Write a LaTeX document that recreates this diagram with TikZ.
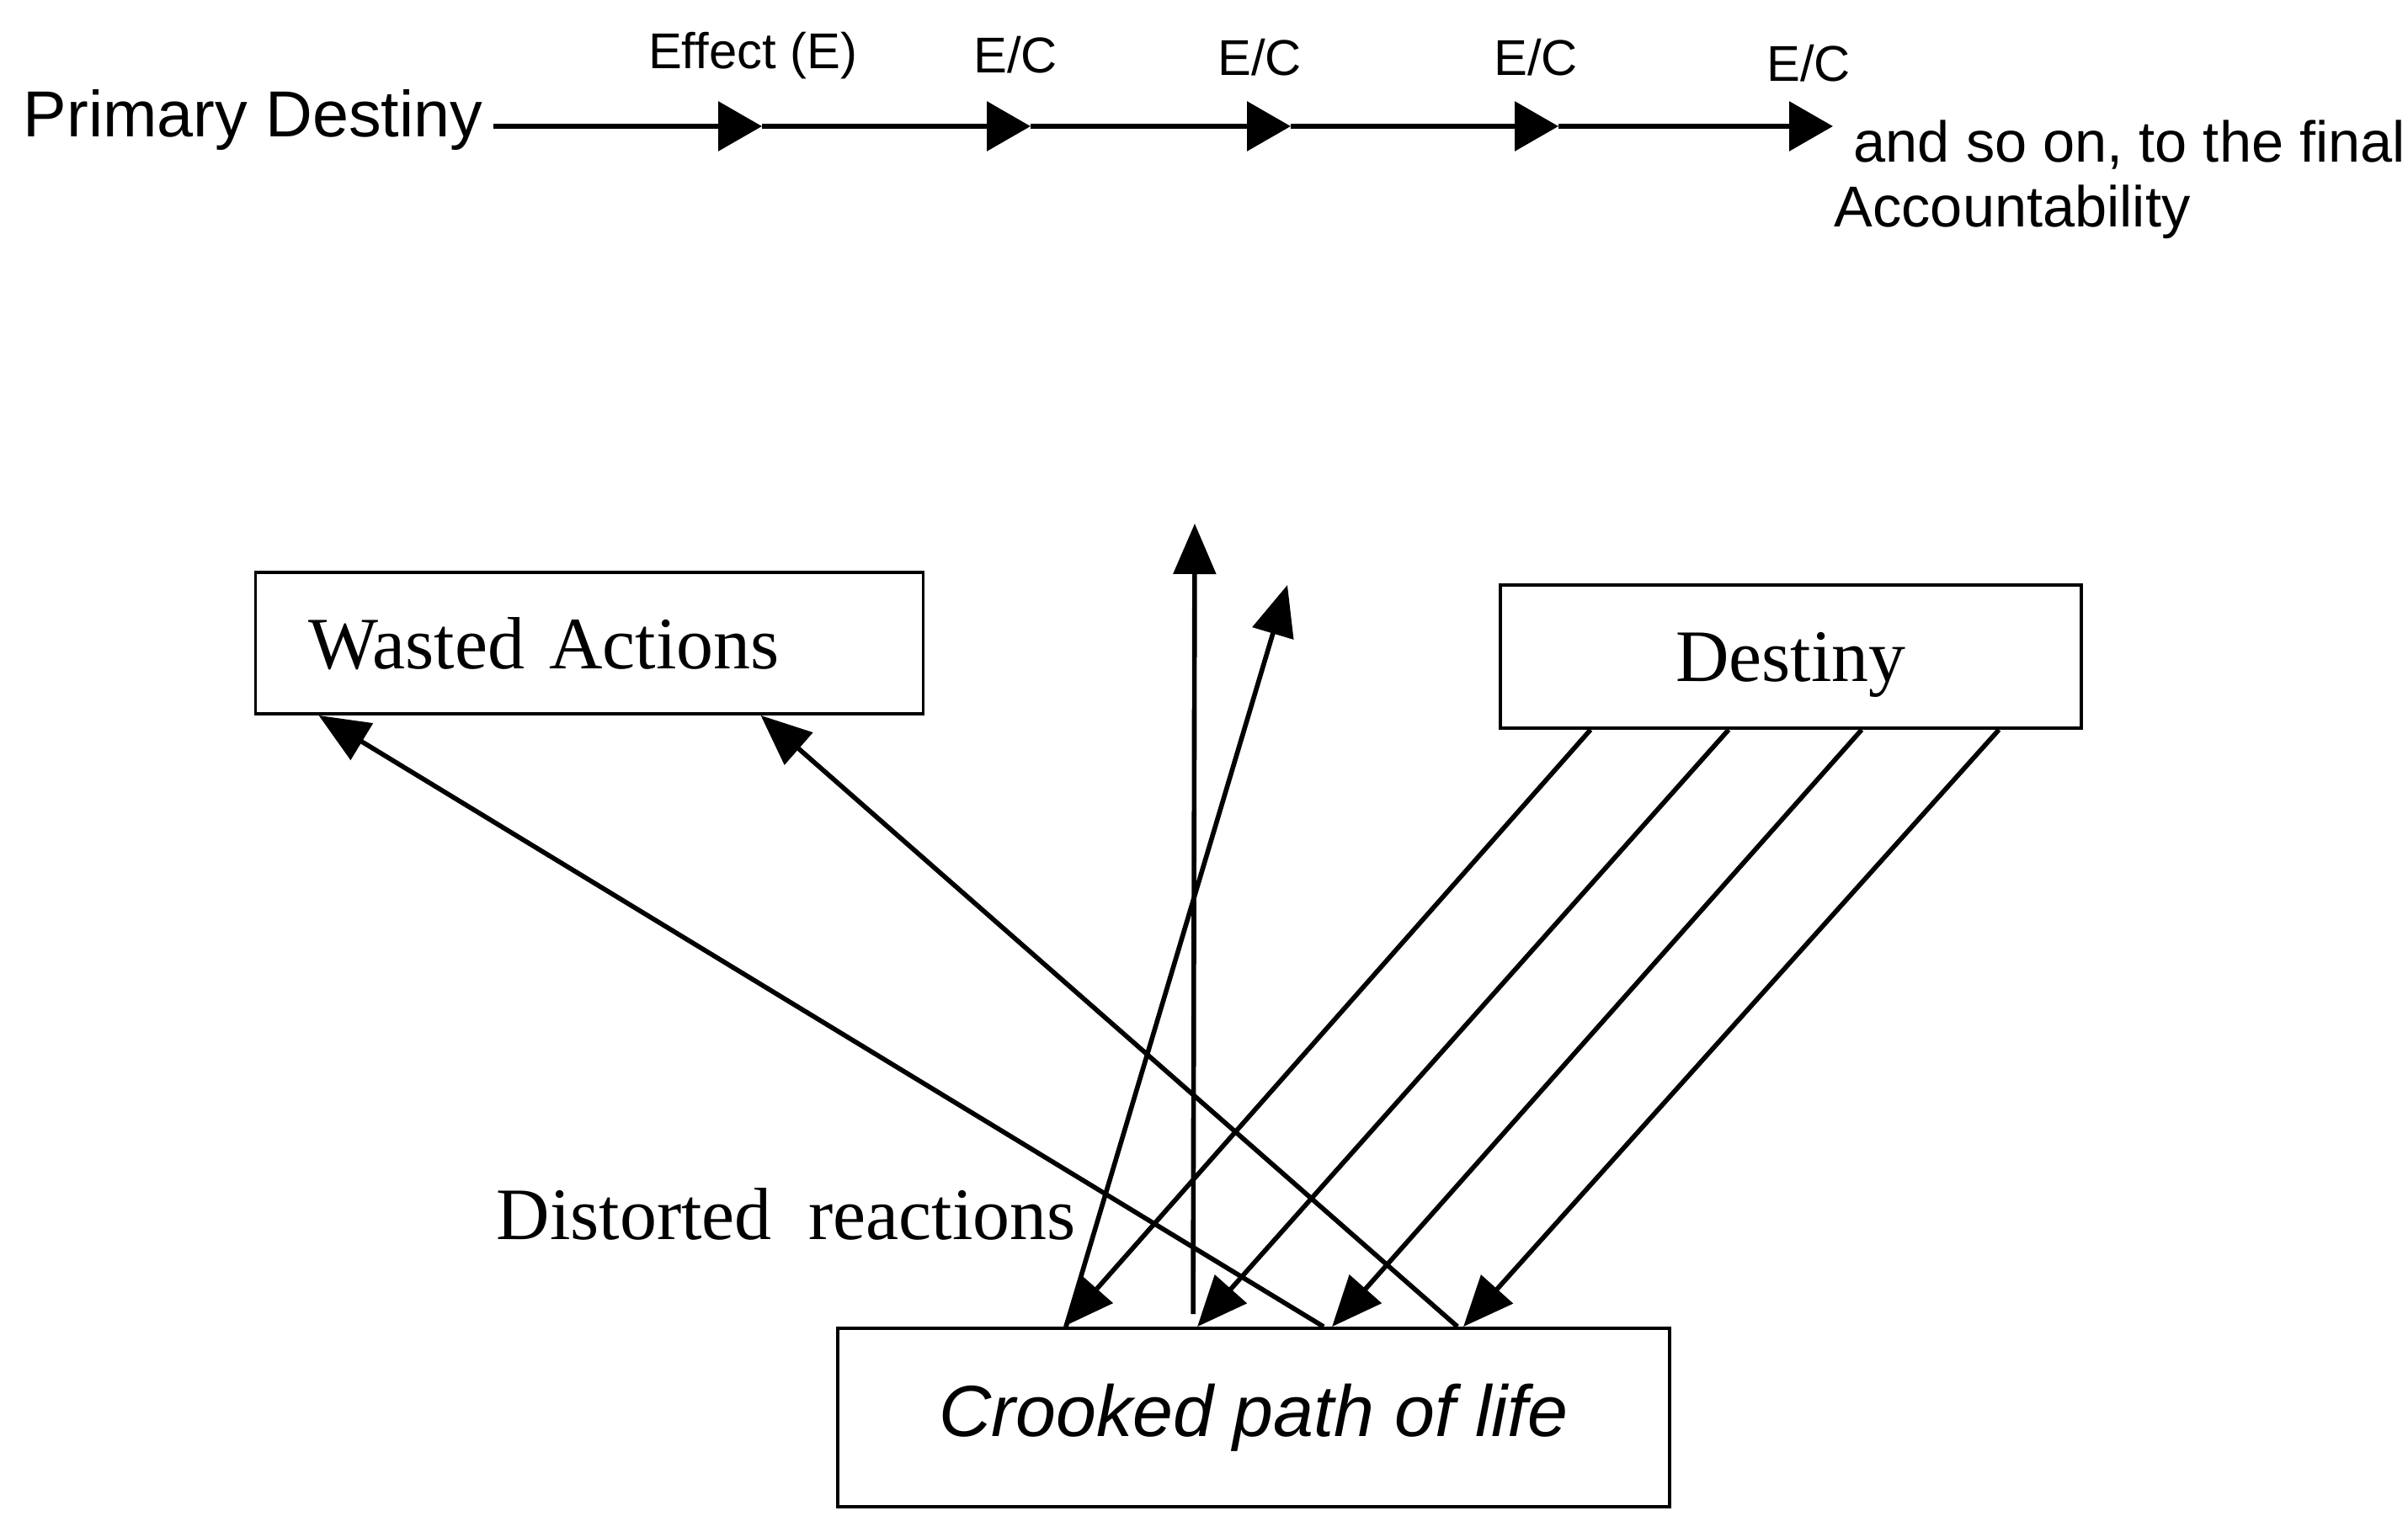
\documentclass[tikz,border=0pt]{standalone}
\usepackage{fontspec}
\setmainfont{Liberation Serif}
\setsansfont{Liberation Sans}
\usetikzlibrary{arrows.meta}
\begin{document}
\begin{tikzpicture}
        \tikzstyle{every node}=[inner sep=0pt];
        \tikzstyle{sans}=[font=\sffamily\fontsize{22pt}{26pt}\selectfont];
        \tikzstyle{small}=[font=\sffamily\fontsize{19.5pt}{22pt}\selectfont, anchor=base west];
        \tikzstyle{tag}=[font=\sffamily\fontsize{17pt}{20pt}\selectfont, anchor=base];
        \tikzstyle{serif}=[font=\fontsize{25pt}{30pt}\selectfont];
        \tikzstyle{box}=[draw, line width=1.1pt, serif, text depth=0pt];
        \tikzstyle{chain}=[line width=1.8pt, -{Triangle[length=0.52cm, width=0.58cm]}];
        \tikzstyle{arr}=[line width=1.6pt, -{Triangle[length=0.6cm, width=0.5cm]}];
        \useasboundingbox (0,0) rectangle (28.6,18);
        \node[sans, anchor=base west] (prim) at (0.27,16.37) {Primary Destiny};
        \coordinate (t1) at (9.05,16.5);
        \coordinate (t2) at (12.24,16.5);
        \coordinate (t3) at (15.33,16.5);
        \coordinate (t4) at (18.51,16.5);
        \coordinate (t5) at (21.77,16.5);
        \draw[chain, shorten <=0.12cm] (prim.east |- t1) -- (t1);
        \foreach \a/\b in {t1/t2, t2/t3, t3/t4, t4/t5} \draw[chain] (\a) -- (\b);
        \node[tag] (eff) at (8.94,17.18) {Effect (E)};
        \node[tag] (ec1) at (12.06,17.13) {E/C};
        \node[tag] (ec2) at (14.96,17.10) {E/C};
        \node[tag] (ec3) at (18.24,17.10) {E/C};
        \node[tag] (ec4) at (21.48,17.03) {E/C};
        \node[small] (final) at (22.01,16.07) {and so on, to the final};
        \node[small] (acct) at (21.78,15.30) {Accountability};
        \node[box, minimum width=7.93cm, minimum height=1.68cm, text width=6.67cm, inner xsep=0.63cm, align=left] (waste) at (7.0,10.36) {Wasted Actions};
        \node[box, minimum width=6.9cm, minimum height=1.7cm] (dest) at (21.27,10.2) {Destiny};
        \node[draw, line width=1.1pt, font=\sffamily\itshape\fontsize{24.5pt}{29pt}\selectfont, minimum width=9.88cm, minimum height=2.12cm] (crook) at (14.89,1.16) {Crooked path of life};
        \node[serif, anchor=base west] (dist) at (5.89,3.28) {Distorted~~reactions};
        \coordinate (up1) at (14.19,11.78);
        \coordinate (up2) at (15.29,11.05);
        \draw[arr] ([xshift=4.24cm, yshift=0.15cm]crook.north west) -- (up1);
        \draw[arr] ([xshift=2.73cm]crook.north west) -- (up2);
        \foreach \s/\e in {1.09/2.70, 2.73/4.29, 4.31/5.89, 5.94/7.45} \draw[arr] ([xshift=\s cm]dest.south west) -- ([xshift=\e cm]crook.north west);
        \foreach \s/\e in {5.79/0.77, 7.38/6.02} \draw[arr] ([xshift=\s cm]crook.north west) -- ([xshift=\e cm]waste.south west);
\end{tikzpicture}
\end{document}
